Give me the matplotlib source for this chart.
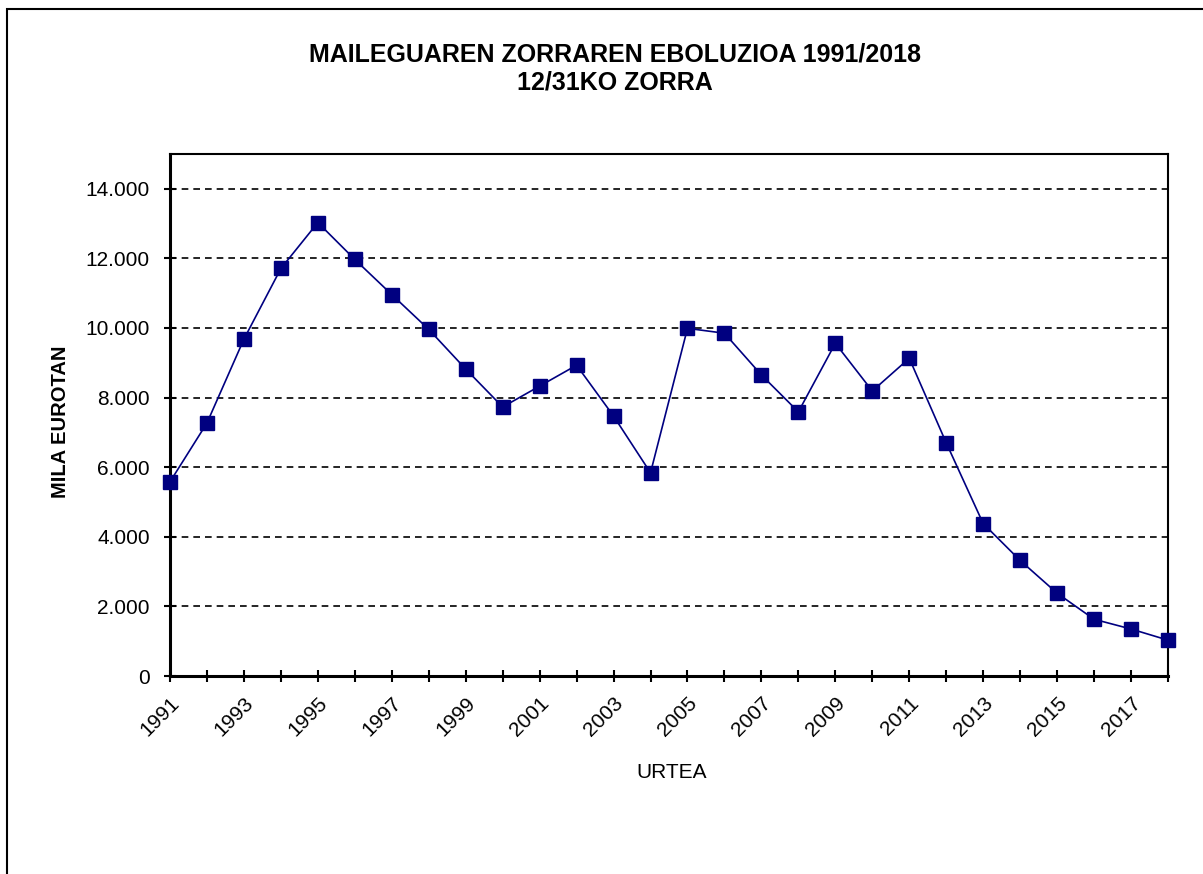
import matplotlib.pyplot as plt
from matplotlib.patches import Rectangle
from matplotlib.ticker import FuncFormatter

plt.rcParams['font.family'] = ['Liberation Sans', 'DejaVu Sans']

years = list(range(1991, 2019))
debt = [5580, 7270, 9680, 11710, 13030, 11970, 10960, 9960, 8820, 7730,
        8330, 8930, 7470, 5840, 9990, 9850, 8650, 7590, 9560, 8190,
        9130, 6700, 4380, 3320, 2380, 1630, 1350, 1030]
tick_years = years[::2]

W, H = 1203, 874
fig = plt.figure(figsize=(W / 100, H / 100), dpi=100)
ax = fig.add_axes([170 / W, 1 - 676 / H, (1168 - 170) / W, (676 - 154) / H])

ax.plot(years, debt, color='#000080', linewidth=1.2, marker='s',
        markersize=10.5, markerfacecolor='#000080', markeredgecolor='#000080',
        clip_on=False, zorder=3)

ax.set_xlim(1991, 2018)
ax.set_ylim(0, 15000)
ax.set_yticks(range(0, 15000, 2000))
ax.yaxis.set_major_formatter(FuncFormatter(lambda v, p: f"{int(v):,}".replace(",", ".")))
ax.set_xticks(years, minor=True)
ax.set_xticks(tick_years)
ax.set_xticklabels([str(y) for y in tick_years], rotation=45, ha='right',
                   rotation_mode='anchor')
ax.tick_params(axis='both', which='both', direction='inout', length=9,
               width=1.5, labelsize=15)
ax.tick_params(axis='y', pad=10)
ax.tick_params(axis='x', which='major', pad=8)
ax.grid(axis='y', linestyle=(0, (4, 3)), color='black', linewidth=1.2)
for s in ax.spines.values():
    s.set_linewidth(1.5)
ax.spines['left'].set_linewidth(2.2)
ax.spines['bottom'].set_linewidth(2.2)

fig.text(60 / W, 1 - 422 / H, "MILA EUROTAN", fontsize=14.5, fontweight='bold',
         rotation=90, ha='center', va='center')
fig.text(672 / W, 1 - 772 / H, "URTEA", fontsize=15, ha='center', va='center')
fig.text(615 / W, 1 - 62 / H, "MAILEGUAREN ZORRAREN EBOLUZIOA 1991/2018",
         fontsize=18, fontweight='bold', ha='center', va='baseline')
fig.text(615 / W, 1 - 90 / H, "12/31KO ZORRA",
         fontsize=18, fontweight='bold', ha='center', va='baseline')

fig.patches.append(Rectangle((7 / W, -0.1), 1.2, 1.1 - 9 / H,
                             transform=fig.transFigure, fill=False,
                             edgecolor='black', linewidth=1.5))

fig.savefig('out.png', dpi=100)
